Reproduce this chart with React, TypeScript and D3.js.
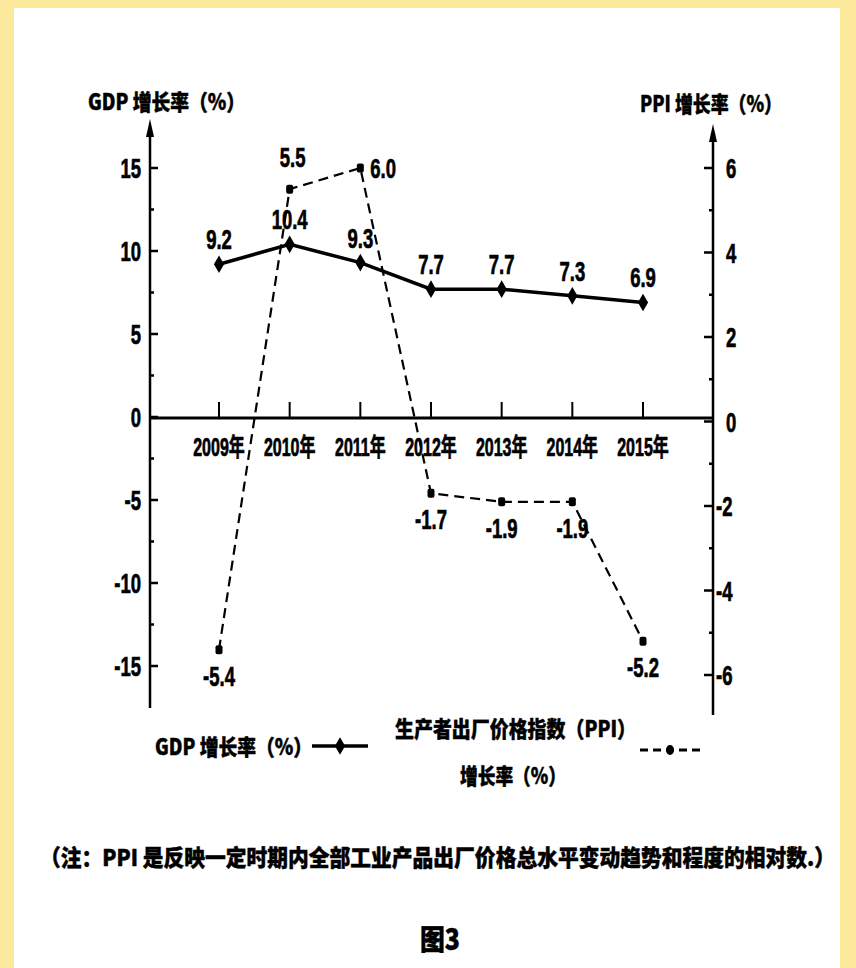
import React from 'react';
import * as d3 from 'd3';

const years = ['2009年', '2010年', '2011年', '2012年', '2013年', '2014年', '2015年'];
const gdpValues = [9.2, 10.4, 9.3, 7.7, 7.7, 7.3, 6.9];
const ppiValues = [-5.4, 5.5, 6.0, -1.7, -1.9, -1.9, -5.2];
const gdpTicks = [-15, -10, -5, 0, 5, 10, 15];
const gdpMinorTicks = [-12.5, -7.5, -2.5, 2.5, 7.5, 12.5];
const ppiTicks = [-6, -4, -2, 0, 2, 4, 6];
const ppiMinorTicks = [-5, -3, -1, 1, 3, 5];

const NUMFONT = "'Liberation Sans','Noto Sans CJK SC',sans-serif";
const CJK = "'Noto Sans CJK SC',sans-serif";

function Num(props: { x: number; y: number; anchor?: string; size?: number; sx?: number; children: React.ReactNode }) {
  const { x, y, anchor = 'middle', size = 28, sx = 0.66, children } = props;
  return (
    <text transform={`translate(${x},${y}) scale(${sx},1)`} textAnchor={anchor} fontFamily={NUMFONT} fontWeight="bold" fontSize={size} fill="#000" stroke="#000" strokeWidth={0.7}>
      {children}
    </text>
  );
}

function Cjk(props: { x: number; y: number; size?: number; sy?: number; len: number; anchor?: string; children: React.ReactNode }) {
  const { x, y, size = 20, sy = 1.1, len, anchor = 'start', children } = props;
  return (
    <text transform={`translate(${x},${y}) scale(1,${sy})`} textAnchor={anchor} fontFamily={CJK} fontWeight={900} fontSize={size} textLength={len} lengthAdjust="spacingAndGlyphs" fill="#000" stroke="#000" strokeWidth={0.4}>
      {children}
    </text>
  );
}

export default function App() {
  const W = 856, H = 968;
  const xLeft = 150, xRight = 713, y0 = 418;
  const x = d3.scalePoint<string>().domain(years).range([219, 643]);
  const yL = d3.scaleLinear().domain([-15, 15]).range([y0 + 248, y0 - 250]);
  const yR = d3.scaleLinear().domain([-6, 6]).range([y0 + 257, y0 - 250]);

  const gdpLine = d3.line<number>().x((_, i) => x(years[i])!).y(d => yL(d))(gdpValues)!;
  const ppiLine = d3.line<number>().x((_, i) => x(years[i])!).y(d => yR(d))(ppiValues)!;
  const diamond = d3.symbol().type(d3.symbolDiamond).size(90)()!;
  const fmt = (v: number) => (v < 0 ? '-' : '') + Math.abs(v).toString();
  const ppiMax = d3.max(ppiValues)!;

  return (
    <svg width={W} height={H} style={{ display: 'block', position: 'absolute', left: 0, top: 0 }}>
      <rect x={0} y={0} width={W} height={H} fill="#fde99b" />
      <rect x={14} y={8} width={826} height={H - 8} fill="#ffffff" />

      {/* axis titles */}
      <Cjk x={88} y={110} len={157}>GDP 增长率（%）</Cjk>
      <Cjk x={640} y={112} len={142}>PPI 增长率（%）</Cjk>

      {/* left axis */}
      <line x1={xLeft} y1={128} x2={xLeft} y2={708} stroke="#000" strokeWidth={2.5} />
      <path d={`M${xLeft},119 L${xLeft - 4},137 L${xLeft + 4},137 Z`} fill="#000" />
      {gdpTicks.map(t => (
        <g key={'gl' + t}>
          <line x1={xLeft} x2={xLeft + 8} y1={yL(t)} y2={yL(t)} stroke="#000" strokeWidth={2.5} />
          <Num x={141} y={yL(t) + 10} anchor="end">{fmt(t)}</Num>
        </g>
      ))}
      {gdpMinorTicks.map(t => (
        <line key={'gm' + t} x1={xLeft} x2={xLeft + 4} y1={yL(t)} y2={yL(t)} stroke="#000" strokeWidth={2.5} />
      ))}

      {/* right axis */}
      <line x1={xRight} y1={133} x2={xRight} y2={715} stroke="#000" strokeWidth={2.5} />
      <path d={`M${xRight},124 L${xRight - 4},142 L${xRight + 4},142 Z`} fill="#000" />
      {ppiTicks.map(t => (
        <g key={'pr' + t}>
          <line x1={xRight - 9} x2={xRight} y1={yR(t)} y2={yR(t)} stroke="#000" strokeWidth={2.5} />
          <Num x={t < 0 ? 716 : 726} y={yR(t) + 10} anchor="start">{fmt(t)}</Num>
        </g>
      ))}
      {ppiMinorTicks.map(t => (
        <line key={'pm' + t} x1={xRight - 4} x2={xRight} y1={yR(t)} y2={yR(t)} stroke="#000" strokeWidth={2.5} />
      ))}

      {/* x axis */}
      <line x1={xLeft} x2={xRight} y1={y0} y2={y0} stroke="#000" strokeWidth={3} />
      {years.map(yr => (
        <g key={yr}>
          <line x1={x(yr)!} x2={x(yr)!} y1={y0} y2={y0 - 16} stroke="#000" strokeWidth={2} />
          <Num x={x(yr)!} y={y0 + 38} size={25} sx={0.64}>{yr}</Num>
        </g>
      ))}

      {/* PPI dashed line */}
      <path d={ppiLine} fill="none" stroke="#000" strokeWidth={2.2} strokeDasharray="10,6" />
      {ppiValues.map((v, i) => (
        <rect key={'pp' + i} x={x(years[i])! - 3.5} y={yR(v) - 4.5} width={7} height={9} rx={2} fill="#000" />
      ))}
      {ppiValues.map((v, i) => {
        const px = x(years[i])!;
        const py = yR(v);
        let tx = px, ty = py, anchor = 'middle';
        if (v < 0) { ty = py + 36; }
        else if (v === ppiMax) { tx = px + 10; ty = py + 10; anchor = 'start'; }
        else { tx = px + 3; ty = py - 22; }
        return (
          <Num key={'pl' + i} x={tx} y={ty} anchor={anchor}>
            {v < 0 ? '-' + Math.abs(v).toFixed(1) : v.toFixed(1)}
          </Num>
        );
      })}

      {/* GDP solid line */}
      <path d={gdpLine} fill="none" stroke="#000" strokeWidth={3.5} />
      {gdpValues.map((v, i) => (
        <path key={'gp' + i} d={diamond} transform={`translate(${x(years[i])},${yL(v)})`} fill="#000" />
      ))}
      {gdpValues.map((v, i) => (
        <Num key={'gt' + i} x={x(years[i])!} y={yL(v) - 15}>{v.toFixed(1)}</Num>
      ))}

      {/* legend */}
      <Cjk x={155} y={755} len={157}>GDP 增长率（%）</Cjk>
      <line x1={312} x2={368} y1={746} y2={746} stroke="#000" strokeWidth={3.5} />
      <path d={diamond} transform="translate(340,746)" fill="#000" />
      <Cjk x={395} y={737} len={241}>生产者出厂价格指数（PPI）</Cjk>
      <Cjk x={460} y={784} len={106}>增长率（%）</Cjk>
      <line x1={640} x2={700} y1={750} y2={750} stroke="#000" strokeWidth={3} strokeDasharray="8,5" />
      <ellipse cx={670} cy={750} rx={4} ry={5} fill="#000" />

      {/* note */}
      <Cjk x={40} y={866} size={20} sy={1.15} len={795}>（注：PPI 是反映一定时期内全部工业产品出厂价格总水平变动趋势和程度的相对数.）</Cjk>
      <Cjk x={420} y={950} size={24} sy={1.2} len={40}>图3</Cjk>
    </svg>
  );
}
